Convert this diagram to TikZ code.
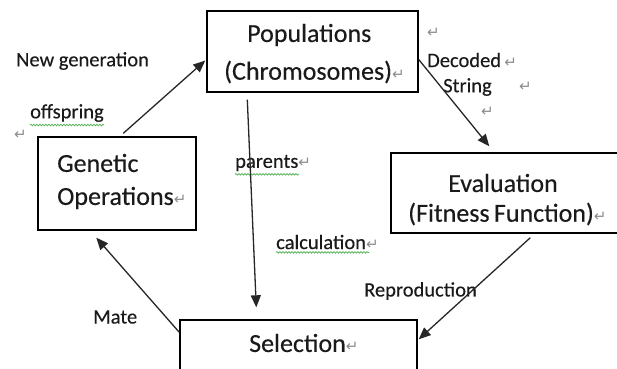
\documentclass[tikz,border=0pt]{standalone}
\usepackage{fontspec}
\setmainfont{Carlito}[FakeBold=0.3]
\newfontfamily\dejavu{DejaVu Sans}
\usetikzlibrary{arrows.meta,calc,decorations.pathmorphing}
\definecolor{txt}{HTML}{1A1A1A}
\definecolor{retgray}{HTML}{8C8C8C}
\definecolor{spell}{HTML}{4CB04C}
\newcommand\pmark{{\color{retgray}\dejavu\fontsize{15}{15}\selectfont ↵}}
\tikzset{
  box/.style={draw=black, line width=1.4pt, rectangle, inner sep=0pt},
  boxtxt/.style={inner sep=0pt, anchor=west, text=txt, font=\fontsize{26}{30}\selectfont},
  lbl/.style={inner sep=0pt, anchor=west, text=txt, font=\fontsize{20.5}{23}\selectfont},
  retnode/.style={inner sep=0pt, anchor=west},
  conn/.style={draw=black!85, line width=1.3pt, -{Triangle[length=12pt,width=10pt]}},
  squiggle/.style={draw=spell, line width=0.7pt, decorate, decoration={snake, amplitude=0.8pt, segment length=3pt}}
}
\begin{document}
\begin{tikzpicture}[x=1pt,y=-1pt]
\useasboundingbox (0,0) rectangle (617,368);
\clip (0,0) rectangle (617,368);
% boxes
\node[box, minimum width=211pt, minimum height=81pt] (pop) at (312.5,51.5) {};
\node[box, minimum width=158pt, minimum height=93pt] (gen) at (117,183.5) {};
\node[box, minimum width=239pt, minimum height=80pt] (eval) at (510.5,193) {};
\node[box, minimum width=237pt, minimum height=70pt] (sel) at (298.5,355) {};
% box texts
\node[boxtxt] (popA) at (247,35) {Populations};
\node[boxtxt] (popB) at (224,72) {(Chromosomes)\pmark};
\node[boxtxt] (genA) at (57,163) {Genetic};
\node[boxtxt] (genB) at (57,198) {Operations\pmark};
\node[boxtxt] (evA) at (448,183) {Evaluation};
\node[boxtxt] (evB) at (408,214) {(Fitness\,Function)\pmark};
\node[boxtxt] (selA) at (249,343) {Selection\pmark};
% labels
\node[lbl] (newgen) at (16,61) {New generation};
\node[lbl] (offs) at (30,113) {offspring};
\node[retnode] (r1) at (14,135) {\pmark};
\node[lbl] (par) at (235,163) {parents\pmark};
\node[lbl] (calc) at (276,242) {calculation\pmark};
\node[retnode] (r2) at (427,33) {\pmark};
\node[lbl] (dec) at (427,60) {Decoded\,\pmark};
\node[lbl] (str) at (443,87) {String};
\node[retnode] (r3) at (519,87) {\pmark};
\node[retnode] (r4) at (481,112) {\pmark};
\node[lbl] (rep) at (364,291) {Reproduction};
\node[lbl] (mate) at (93,317) {Mate};
% spell-check squiggles
\draw[squiggle] ($(offs.south west)+(0,3)$) -- ($(offs.south east)+(0,3)$);
\draw[squiggle] ($(par.south west)+(0,3)$) -- ($(par.south west)+(64,3)$);
\draw[squiggle] ($(calc.south west)+(0,3)$) -- ($(calc.south west)+(93,3)$);
% connectors
\draw[conn] ($(gen.north west)+(86,-3)$) -- ($(pop.west)+(-1,9)$);
\draw[conn] ($(pop.south west)+(41,7)$) -- ($(sel.north west)+(77,-12)$);
\draw[conn] ($(pop.east)+(0,8)$) -- ($(eval.north west)+(99,-6)$);
\draw[conn] ($(eval.south west)+(140,4)$) -- ($(sel.north east)+(1,20)$);
\draw[conn] ($(sel.north west)+(0,13)$) -- ($(gen.south west)+(59,7)$);
\end{tikzpicture}
\end{document}
